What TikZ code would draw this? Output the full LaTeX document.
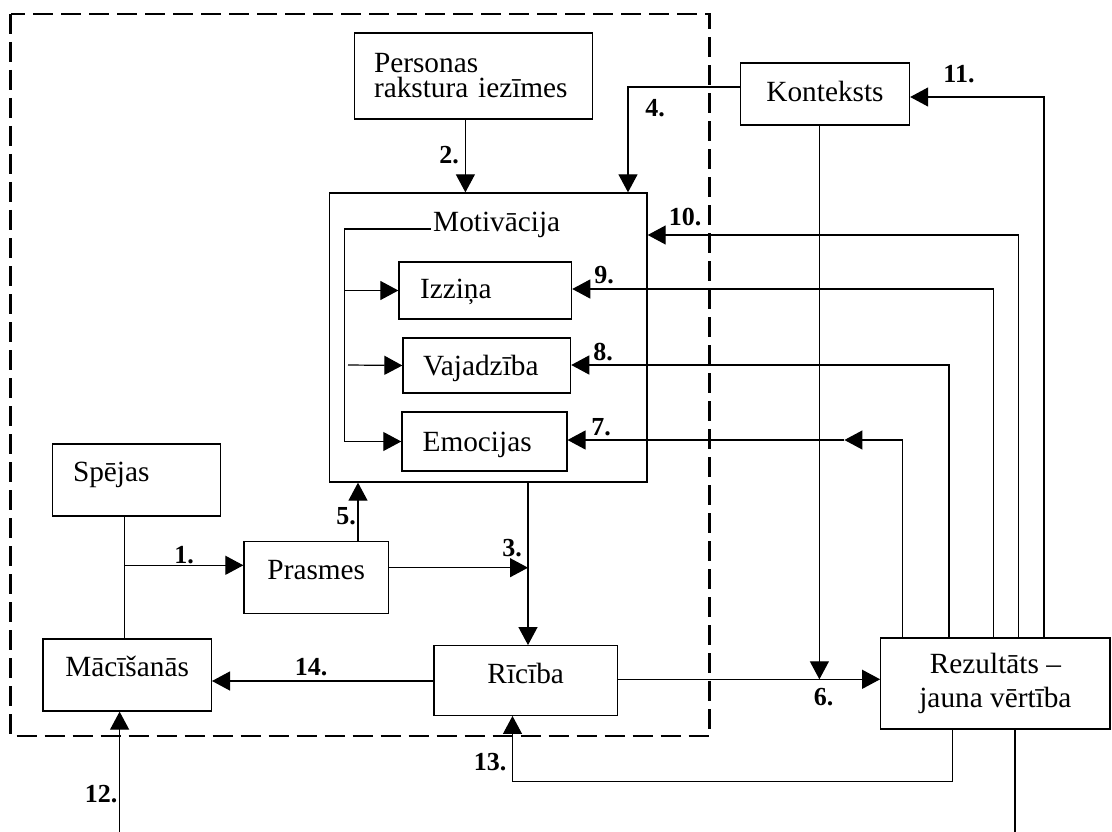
\documentclass[tikz,border=0pt]{standalone}
\usepackage{fontspec}
\setmainfont{Liberation Serif}
\usetikzlibrary{arrows.meta}
\begin{document}
\begin{tikzpicture}[x=1pt,y=-1pt,
  every node/.style={font=\fontsize{29.3}{34}\selectfont},
  ln/.style={line width=1.2pt},
  arr/.style={ln,-{Triangle[length=18pt,width=19pt]}},
  box/.style={draw,line width=1.3pt,inner sep=0pt},
  bl/.style={text height=#1,text depth=0pt},
  lab/.style={font=\bfseries\fontsize{26}{26}\selectfont,inner sep=0pt},
  frame/.style={line width=2.6pt,dash pattern=on 20pt off 8pt}]
\useasboundingbox (0,0) rectangle (1112,832);

% personal sphere
\draw[frame] (10.7,14) rectangle (709.6,736);

% boxes
\node[box,minimum width=238pt,minimum height=86pt,text width=199.2pt,inner xsep=19.4pt,
  align=left,font=\fontsize{29.3}{25}\selectfont] (pers) at (473.6,76) {Personas\\rakstura iezīmes};
\node[box,minimum width=317.7pt,minimum height=289pt] (mot) at (488.2,337.5) {};
\node[anchor=base west,inner sep=0pt] (mtxt) at (433,231.7) {Motivācija};
\node[box,minimum width=172.6pt,minimum height=57pt,text width=130.6pt,inner xsep=21pt,
  align=left,bl=15.6pt] (izz) at (485.3,290.5) {Izziņa};
\node[box,minimum width=167.6pt,minimum height=55pt,text width=127.6pt,inner xsep=20pt,
  align=left,bl=19pt] (vaj) at (486.8,365.5) {Vajadzība};
\node[box,minimum width=165pt,minimum height=59pt,text width=123.6pt,inner xsep=20.7pt,
  align=left,bl=20.4pt] (emo) at (484.4,441.5) {Emocijas};
\node[box,minimum width=169pt,minimum height=62pt,bl=15.4pt] (kon) at (825,94) {Konteksts};
\node[box,minimum width=168.2pt,minimum height=72pt,text width=127.2pt,inner xsep=20.5pt,
  align=left,bl=3.4pt] (spe) at (136.6,480) {Spējas};
\node[box,minimum width=144.6pt,minimum height=71.6pt,bl=3.6pt] (pra) at (316.3,577.5) {Prasmes};
\node[box,minimum width=168.5pt,minimum height=72pt,bl=3.4pt] (mac) at (127.1,675) {Mācīšanās};
\node[box,minimum width=183.4pt,minimum height=69.6pt,bl=5.6pt] (ric) at (525.7,680.5) {Rīcība};
\node[box,minimum width=229.3pt,minimum height=91pt,align=center] (rez) at (995.4,683.5) {Rezultāts –\\jauna vērtība};

% routing points
\coordinate (j1) at (124.6,565.3);
\coordinate (x2) at (465.4,0);
\coordinate (c3) at (528,567.7);
\coordinate (c4) at (628,87);
\coordinate (x5) at (358,0);
\coordinate (c6) at (819.4,679.3);
\coordinate (c7) at (902.5,440);
\coordinate (c7m) at (844.4,440);
\coordinate (c8) at (949,365);
\coordinate (c9) at (993.6,289);
\coordinate (c10) at (1018.3,235);
\coordinate (c11) at (1044,97);
\coordinate (b12) at (119.6,832);
\coordinate (c13a) at (952.3,781.7);
\coordinate (c13b) at (512.5,781.7);
\coordinate (c14) at (0,681);
\coordinate (b15) at (1015,832);
\coordinate (mline) at (431,229);
\coordinate (mv) at (344.6,229);
\coordinate (mv2) at (348,365);

% motivation branches
\draw[ln] (mline) -- (mv) -- (mv |- emo);
\draw[arr] (mv |- izz) -- (izz.west);
\draw[arr] (mv2) -- (vaj.west);
\draw[arr] (mv |- emo) -- (emo.west);

% connectors
\draw[ln] (spe.south -| j1) -- (mac.north -| j1);
\draw[arr] (j1) -- (pra.west |- j1);
\draw[arr] (pers.south -| x2) -- (mot.north -| x2);
\draw[arr] (mot.south -| c3) -- (ric.north -| c3);
\draw[arr] (pra.east |- c3) -- (c3);
\draw[arr] (kon.west |- c4) -- (c4) -- (mot.north -| c4);
\draw[arr] (pra.north -| x5) -- (mot.south -| x5);
\draw[arr] (kon.south -| c6) -- (c6);
\draw[arr] (ric.east |- c6) -- (rez.west |- c6);
\draw[arr] (rez.north -| c7) -- (c7) -- (c7m);
\draw[arr] (c7m) -- (emo.east |- c7m);
\draw[arr] (rez.north -| c8) -- (c8) -- (vaj.east |- c8);
\draw[arr] (rez.north -| c9) -- (c9) -- (izz.east |- c9);
\draw[arr] (rez.north -| c10) -- (c10) -- (mot.east |- c10);
\draw[arr] (rez.north -| c11) -- (c11) -- (kon.east |- c11);
\draw[arr] (b12) -- (mac.south -| b12);
\draw[arr] (rez.south -| c13a) -- (c13a) -- (c13b) -- (ric.south -| c13b);
\draw[arr] (ric.west |- c14) -- (mac.east |- c14);
\draw[ln] (rez.south -| b15) -- (b15);

% numbers
\node[lab] (l1) at (184,555) {1.};
\node[lab] (l2) at (449,155) {2.};
\node[lab] (l3) at (512,548) {3.};
\node[lab] (l4) at (655,108) {4.};
\node[lab] (l5) at (346,516) {5.};
\node[lab] (l6) at (823.5,696.7) {6.};
\node[lab] (l7) at (601,427) {7.};
\node[lab] (l8) at (603,352.5) {8.};
\node[lab] (l9) at (604,275) {9.};
\node[lab] (l10) at (685,217.5) {10.};
\node[lab] (l11) at (959,74) {11.};
\node[lab] (l12) at (101,794) {12.};
\node[lab] (l13) at (490,761.7) {13.};
\node[lab] (l14) at (311,666.7) {14.};
\end{tikzpicture}
\end{document}
